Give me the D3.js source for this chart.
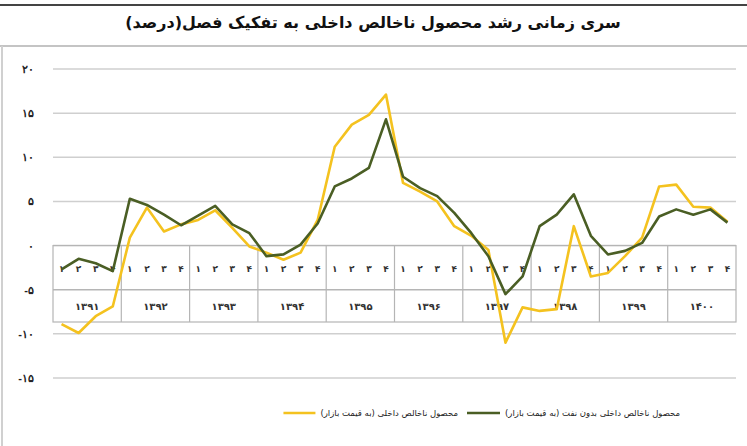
<!DOCTYPE html>
<html>
<head>
<meta charset="utf-8">
<script src="https://cdn.jsdelivr.net/npm/d3@7"></script>
<style>
  body { margin: 0; background: #fff; }
  svg { display: block; font-family: "DejaVu Sans", sans-serif; }
  .grid line { stroke: #cfcfcf; stroke-width: 1.5; }
  .tbl { stroke: #b5b5b5; stroke-width: 1.2; fill: none; }
  .ylab { font-size: 11px; font-weight: bold; fill: #222; }
  .qlab { font-size: 9px; font-weight: bold; fill: #333; }
  .yrlab { font-size: 10px; font-weight: bold; fill: #333; }
  .legend { font-size: 8.5px; fill: #222; }
</style>
</head>
<body>
<div id="chart"></div>
<script>
// years and quarters (multi-level category axis)
const years = ["۱۳۹۱", "۱۳۹۲", "۱۳۹۳", "۱۳۹۴", "۱۳۹۵", "۱۳۹۶", "۱۳۹۷", "۱۳۹۸", "۱۳۹۹", "۱۴۰۰"];
const quarters = ["۱", "۲", "۳", "۴"];
const yTicks = [-15, -10, -5, 0, 5, 10, 15, 20];

// GDP at market prices (yellow)
const gdp = [
    -8.9, -9.9, -8.0, -6.9,
     0.9,  4.3,  1.6,  2.4,
     2.9,  4.0,  2.0, -0.1,
    -0.8, -1.6, -0.8,  2.9,
    11.2, 13.7, 14.8, 17.1,
     7.1,  6.1,  5.0,  2.2,
     1.1, -0.5, -11.0, -7.0,
    -7.4, -7.2,  2.2, -3.5,
    -3.1, -1.2,  0.9,  6.7,
     6.9,  4.4,  4.3,  2.7
];

// GDP without oil at market prices (green)
const gdpNoOil = [
    -2.7, -1.5, -2.0, -2.9,
     5.3,  4.6,  3.5,  2.3,
     3.4,  4.5,  2.4,  1.4,
    -1.2, -1.0,  0.1,  2.5,
     6.7,  7.6,  8.8, 14.3,
     7.8,  6.5,  5.6,  3.7,
     1.4, -1.2, -5.5, -3.5,
     2.2,  3.5,  5.8,  1.1,
    -1.0, -0.6,  0.3,  3.3,
     4.1,  3.5,  4.1,  2.6
];

const title = "سری زمانی رشد محصول ناخالص داخلی به تفکیک فصل(درصد)";
const legendNames = ["محصول ناخالص داخلی (به قیمت بازار)", "محصول ناخالص داخلی بدون نفت (به قیمت بازار)"];
const colors = ["#f4c21f", "#4a5e24"];

/////////////////////////////////////////////////////////////////////

const width = 747, height = 446;
const svg = d3.select("#chart").append("svg")
    .attr("width", width)
    .attr("height", height);

const faDigits = s => String(s).replace(/\d/g, d => "۰۱۲۳۴۵۶۷۸۹"[d]);

// frame
svg.append("line").attr("x1", 0).attr("x2", width).attr("y1", 5).attr("y2", 5)
    .attr("stroke", "#444").attr("stroke-width", 2);
svg.append("line").attr("x1", 0).attr("x2", width).attr("y1", 46).attr("y2", 46)
    .attr("stroke", "#c4c4c4").attr("stroke-width", 2);
svg.append("line").attr("x1", 2).attr("x2", 2).attr("y1", 46).attr("y2", height)
    .attr("stroke", "#d0d0d0").attr("stroke-width", 2);

svg.append("text")
    .text(title)
    .attr("x", 373)
    .attr("y", 28)
    .attr("text-anchor", "middle")
    .attr("font-size", 16)
    .attr("font-weight", "bold")
    .attr("fill", "#111");

const cats = [];
years.forEach(y => quarters.forEach(q => cats.push(y + "-" + q)));

const x = d3.scaleBand().domain(cats).range([53, 736]).padding(0);
const yearScale = d3.scaleBand().domain(years).range([53, 736]).padding(0);
const y = d3.scaleLinear().domain([-15, 20]).range([378, 69]);

// gridlines
svg.append("g")
    .attr("class", "grid")
    .selectAll("line")
    .data(yTicks)
    .join("line")
    .attr("x1", 53)
    .attr("x2", 736)
    .attr("y1", d => y(d))
    .attr("y2", d => y(d));

// y labels
const yAxis = d3.axisLeft(y)
    .tickValues(yTicks)
    .tickSize(0)
    .tickPadding(0)
    .tickFormat(d => faDigits(d));
const yg = svg.append("g").attr("transform", "translate(34,0)").call(yAxis);
yg.select(".domain").remove();
yg.selectAll("text").attr("class", "ylab").attr("direction", "ltr");

// category table
const tTop = y(0), tMid = y(-5), tBot = 322;
const tbl = svg.append("g");
tbl.append("rect")
    .attr("class", "tbl")
    .attr("x", 53).attr("y", tTop)
    .attr("width", 736 - 53).attr("height", tBot - tTop);
tbl.append("line").attr("class", "tbl")
    .attr("x1", 53).attr("x2", 736).attr("y1", tMid).attr("y2", tMid);
tbl.selectAll(".ydiv")
    .data(years.slice(1))
    .join("line")
    .attr("class", "tbl")
    .attr("x1", d => yearScale(d)).attr("x2", d => yearScale(d))
    .attr("y1", tTop).attr("y2", tBot);

tbl.selectAll(".qlab")
    .data(cats)
    .join("text")
    .attr("class", "qlab")
    .text(d => d.split("-")[1])
    .attr("x", d => x(d) + x.bandwidth() / 2)
    .attr("y", (tTop + tMid) / 2 + 4)
    .attr("text-anchor", "middle");

tbl.selectAll(".yrlab")
    .data(years)
    .join("text")
    .attr("class", "yrlab")
    .text(d => d)
    .attr("x", d => yearScale(d) + yearScale.bandwidth() / 2)
    .attr("y", (tMid + tBot) / 2 + 4)
    .attr("text-anchor", "middle");

// lines
const line = d3.line()
    .x((d, i) => x(cats[i]) + x.bandwidth() / 2)
    .y(d => y(d));

[gdp, gdpNoOil].forEach((s, k) => {
    svg.append("path")
        .attr("d", line(s))
        .attr("fill", "none")
        .attr("stroke", colors[k])
        .attr("stroke-width", 2.6)
        .attr("stroke-linejoin", "round");
});

// legend: yellow item ends before the green swatch, green text follows its swatch
const leg = svg.append("g");
const t0 = leg.append("text")
    .attr("class", "legend")
    .text(legendNames[0])
    .attr("x", 458)
    .attr("y", 416)
    .attr("text-anchor", "end");
const w0 = t0.node().getComputedTextLength();
leg.append("line")
    .attr("x1", 458 - w0 - 37).attr("x2", 458 - w0 - 5)
    .attr("y1", 413).attr("y2", 413)
    .attr("stroke", colors[0]).attr("stroke-width", 2.6);
leg.append("line")
    .attr("x1", 467).attr("x2", 500)
    .attr("y1", 413).attr("y2", 413)
    .attr("stroke", colors[1]).attr("stroke-width", 2.6);
leg.append("text")
    .attr("class", "legend")
    .text(legendNames[1])
    .attr("x", 505)
    .attr("y", 416)
    .attr("text-anchor", "start");
</script>
</body>
</html>
